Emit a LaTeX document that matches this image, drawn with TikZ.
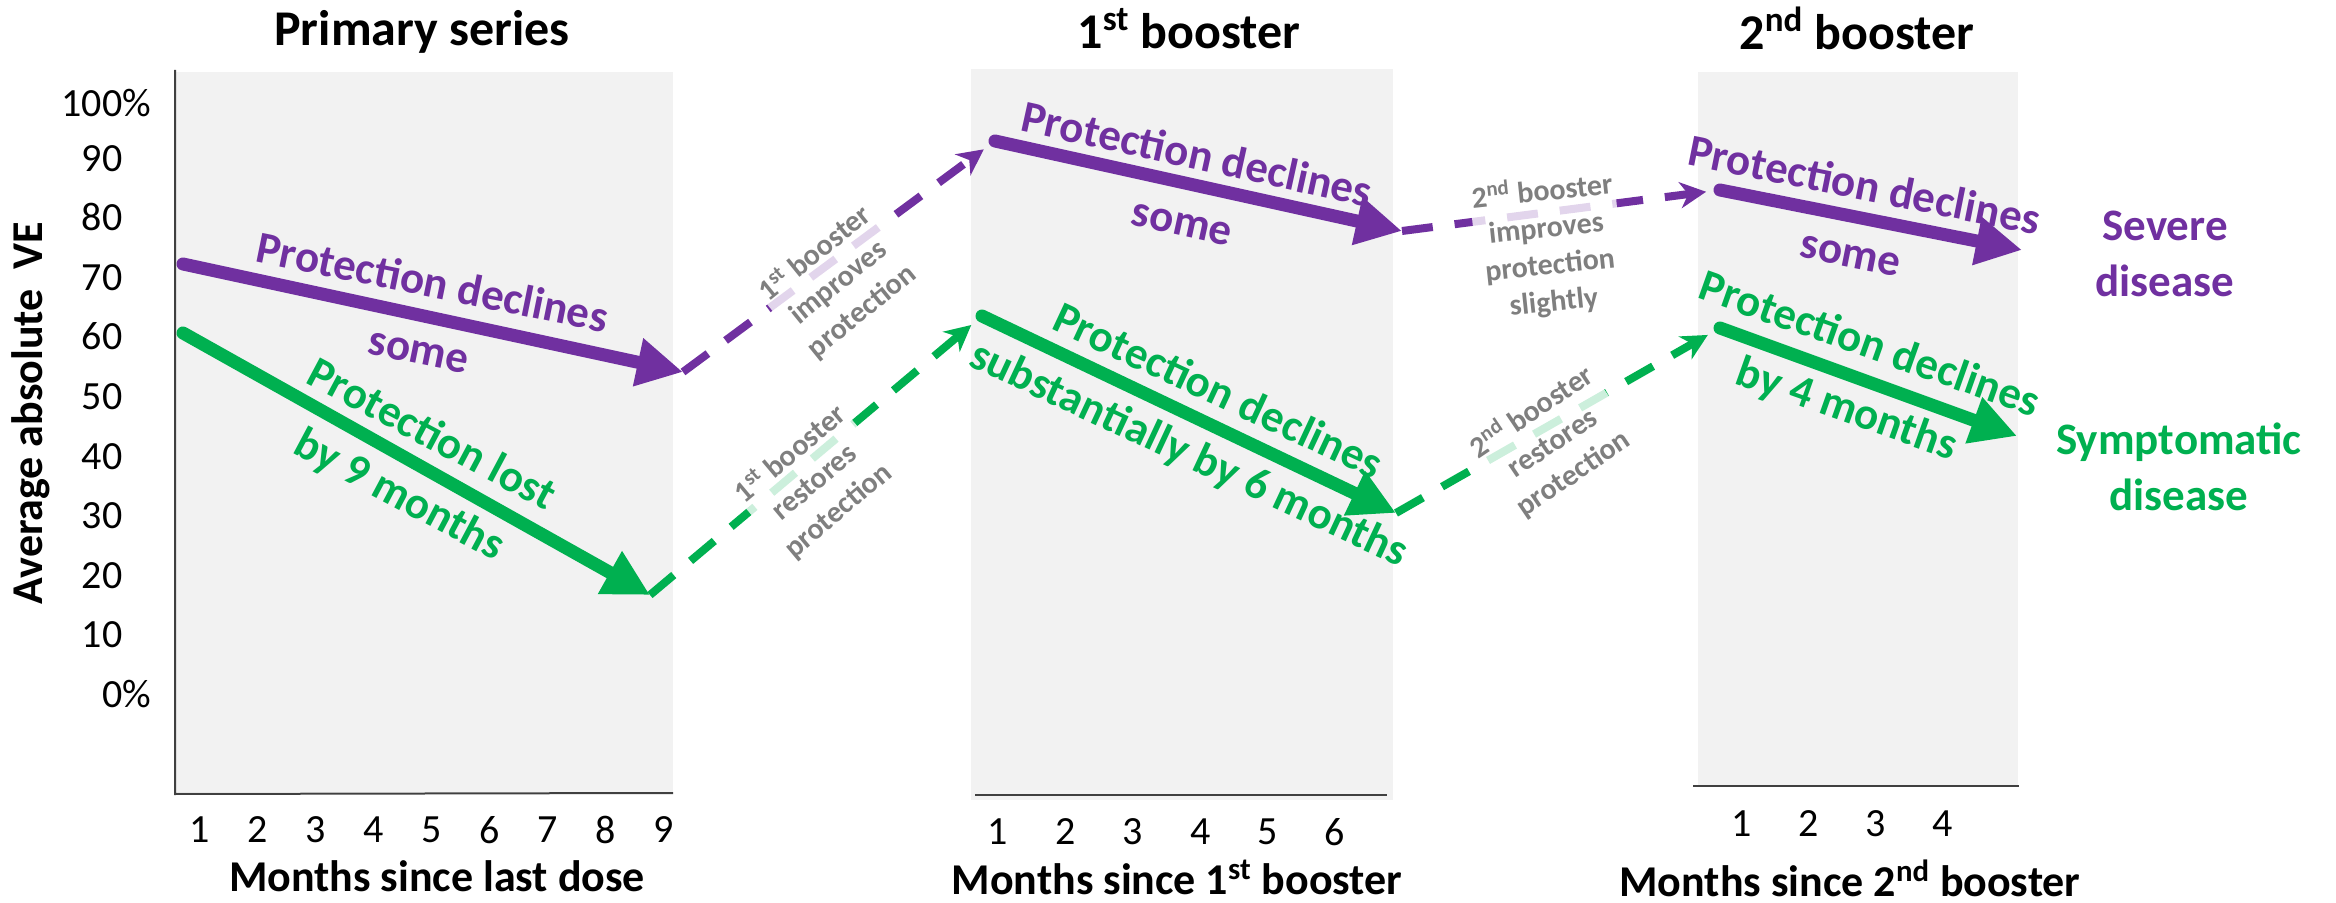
\documentclass[tikz,border=0pt]{standalone}
\usepackage{fontspec}
\setmainfont{Carlito}
\usepackage{xcolor}
\usepackage{tikz}
\usetikzlibrary{arrows.meta}

\definecolor{vepurple}{HTML}{7030A0}
\definecolor{vegreen}{HTML}{00B050}
\definecolor{panelgray}{HTML}{F2F2F2}
\definecolor{notegray}{HTML}{7F7F7F}

\begin{document}
\begin{tikzpicture}[
    x=0.5pt, y=-0.5pt,
    panel/.style={
        fill=panelgray,
        draw=none
    },
    axisline/.style={
        draw=black!75,
        line width=1pt
    },
    paneltitle/.style={
        font=\fontsize{25}{30}\selectfont\bfseries
    },
    axislabel/.style={
        font=\fontsize{22}{26}\selectfont\bfseries,
        inner sep=0pt
    },
    ticklabel/.style={
        font=\fontsize{20}{24}\selectfont
    },
    yticklabel/.style={
        ticklabel,
        anchor=east
    },
    decline/.style={
        line width=6.5pt,
        line cap=round,
        -{Triangle[length=23pt,width=23pt]}
    },
    boost/.style={
        line width=4pt,
        dash pattern=on 15.5pt off 11pt,
        shorten >=7pt,
        -{Stealth[length=13pt,width=13pt,inset=4pt]}
    },
    msg/.style={
        font=\fontsize{22.5}{34}\selectfont\bfseries,
        align=center,
        inner sep=0pt
    },
    boostnote/.style={
        font=\fontsize{15}{18.5}\selectfont\bfseries,
        text=notegray,
        align=center,
        inner sep=1pt,
        fill=white,
        fill opacity=0.8,
        text opacity=1
    },
    outcome/.style={
        font=\fontsize{22.5}{28}\selectfont\bfseries,
        align=center
    }
]

\useasboundingbox (0,0) rectangle (2336,903);

% --- Panels and axes ---------------------------------------------------------

\path[panel] (175,72) rectangle (673,792);
\path[panel] (971,69) rectangle (1393,800);
\path[panel] (1698,72) rectangle (2018,786);

\draw[axisline] (175,70) -- (175,794) -- (673,793);
\draw[axisline] (975,795) -- (1387,795);
\draw[axisline] (1693,786) -- (2019,786);

% --- Titles ------------------------------------------------------------------

\node[paneltitle] (t1) at (422,32) {Primary series};
\node[paneltitle] (t2) at (1189,29) {1\textsuperscript{st} booster};
\node[paneltitle] (t3) at (1857,28) {2\textsuperscript{nd} booster};

% --- Tick labels -------------------------------------------------------------

\node[yticklabel] (y100) at (158,103) {100\%};
\foreach \v [count=\k] in {90,80,70,60,50,40,30,20,10}
    \node[yticklabel] (y\v) at (158,{98+59.6*\k}) {\v\phantom{\%}};
\node[yticklabel] (y0) at (158,694) {0\%};

\foreach \i in {1,...,9}
    \node[ticklabel] (xa\i) at ({200+58*(\i-1)},830) {\i};
\foreach \i in {1,...,6}
    \node[ticklabel] (xb\i) at ({998+67.4*(\i-1)},832) {\i};
\foreach \i in {1,...,4}
    \node[ticklabel] (xc\i) at ({1742+67*(\i-1)},824) {\i};

\node[axislabel] (xla) at (437,876) {Months since last dose};
\node[axislabel] (xlb) at (1177,877) {Months since 1\textsuperscript{st} booster};
\node[axislabel] (xlc) at (1850,878) {Months since 2\textsuperscript{nd} booster};
\node[axislabel, rotate=90] (yl) at (31,413) {Average absolute\ \ VE};

% --- Arrow end points --------------------------------------------------------

\coordinate (pA) at (183,264);
\coordinate (pB) at (683,372);
\coordinate (pC) at (995,141);
\coordinate (pD) at (1402,231);
\coordinate (pE) at (1720,190);
\coordinate (pF) at (2022,250);

\coordinate (gA) at (183,333);
\coordinate (gB) at (650,595);
\coordinate (gC) at (982,316);
\coordinate (gD) at (1396,513);
\coordinate (gE) at (1720,328);
\coordinate (gF) at (2017,436);

% --- Booster steps -----------------------------------------------------------

\draw[boost, vepurple] (pB) -- (pC);
\draw[boost, vepurple] (pD) -- (pE);
\draw[boost, vegreen] (gB) -- (gC);
\draw[boost, vegreen] (gD) -- (gE);

\node[boostnote, rotate=39] (n1p) at (838,282) {1\textsuperscript{st} booster\\improves\\protection};
\node[boostnote, rotate=40] (n1g) at (814,482) {1\textsuperscript{st} booster\\restores\\protection};
\node[boostnote, rotate=6] (n2p) at (1548,246) {2\textsuperscript{nd} booster\\improves\\protection\\slightly};
\node[boostnote, rotate=34] (n2g) at (1552,442) {2\textsuperscript{nd} booster\\restores\\protection};

% --- Waning --------------------------------------------------------------------

\draw[decline, vepurple] (pA) -- (pB);
\draw[decline, vepurple] (pC) -- (pD);
\draw[decline, vepurple] (pE) -- (pF);
\draw[decline, vegreen] (gA) -- (gB);
\draw[decline, vegreen] (gC) -- (gD);
\draw[decline, vegreen] (gE) -- (gF);

\node[msg, text=vepurple, rotate=-11.5] (m1p) at (426,315) {Protection declines\\some};
\node[msg, text=vegreen, rotate=-28] (m1g) at (415,466) {Protection lost\\by 9 months};
\node[msg, text=vepurple, rotate=-12.4] (m2p) at (1190,187) {Protection declines\\some};
\node[msg, text=vegreen, rotate=-25] (m2g) at (1203,424) {Protection declines\\substantially by 6 months};
\node[msg, text=vepurple, rotate=-11.3] (m3p) at (1858,218) {Protection declines\\some};
\node[msg, text=vegreen, rotate=-19.5] (m3g) at (1858,378) {Protection declines\\by 4 months};

% --- Outcomes ------------------------------------------------------------------

\node[outcome, text=vepurple] (severe) at (2165,254) {Severe\\disease};
\node[outcome, text=vegreen] (sympt) at (2179,467) {Symptomatic\\disease};

\end{tikzpicture}
\end{document}
